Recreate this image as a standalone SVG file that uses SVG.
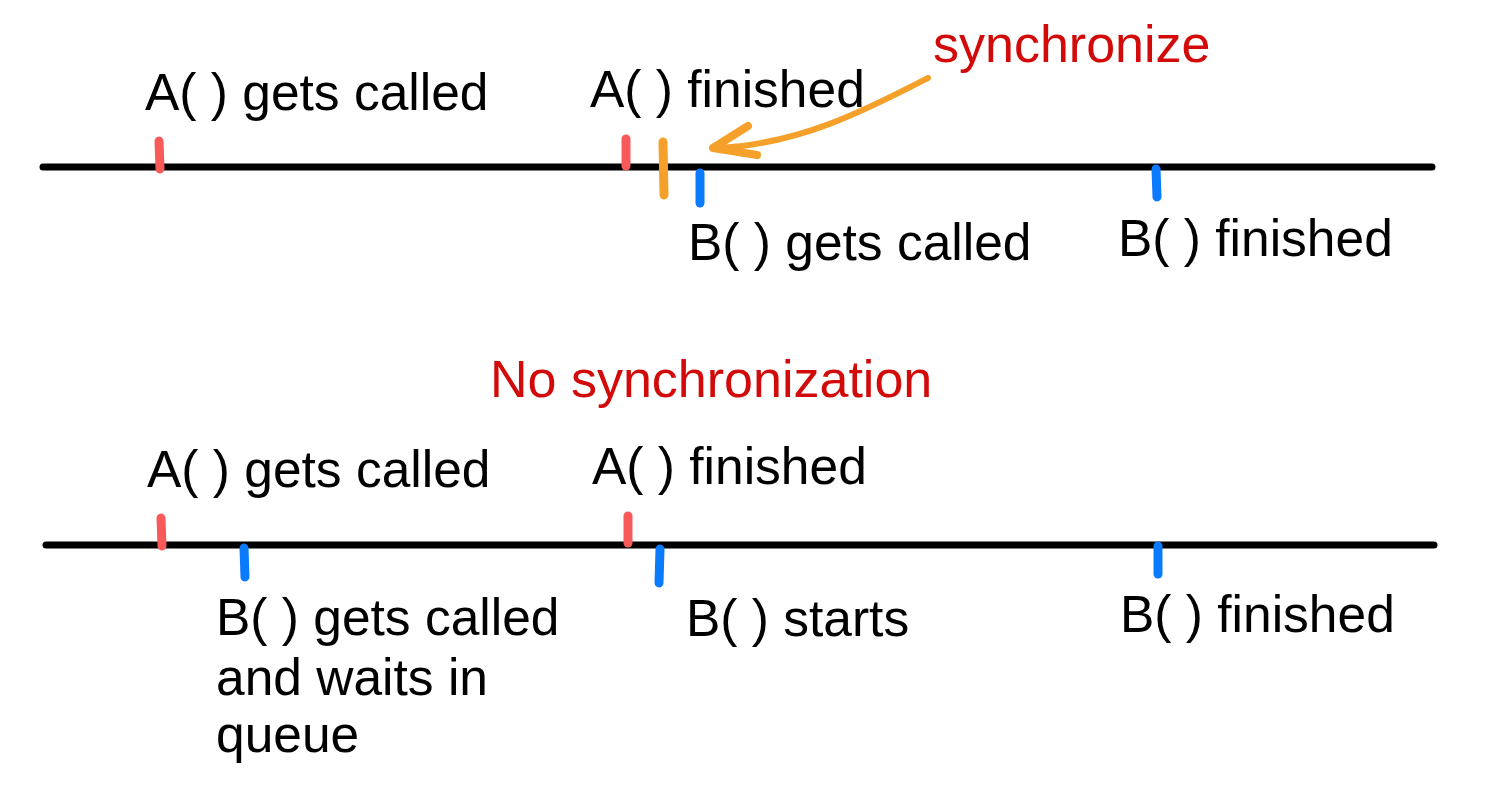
<svg xmlns="http://www.w3.org/2000/svg" width="1501" height="795" viewBox="0 0 1501 795">
<style>
.t{font-family:"Liberation Sans",Arial,sans-serif;font-size:51.5px;fill:#000}
.r{fill:#d20a0a;font-size:52px}
.axis{stroke:#000;stroke-width:7;stroke-linecap:round;fill:none}
.tick{stroke-width:9;stroke-linecap:round;fill:none}
.red{stroke:#f85a5a}
.blue{stroke:#0a7aff}
.orange{stroke:#f5a02a}
</style>
<rect width="1501" height="795" fill="#fff"/>
<g id="connectors">
<line class="axis" x1="43" y1="167" x2="1432" y2="167"/>
<line class="axis" x1="46" y1="545" x2="1434" y2="545"/>
<path class="orange" d="M928,78 C870,108 800,145 716,148" fill="none" stroke-width="6" stroke-linecap="round"/>
<path class="orange" d="M748,126 L713,148 L757,155" fill="none" stroke-width="8" stroke-linecap="round" stroke-linejoin="round"/>
</g>
<g id="top-timeline">
<g id="t-a-called"><line class="tick red" x1="159" y1="141" x2="160" y2="169"/><text class="t" x="145" y="110">A( ) gets called</text></g>
<g id="t-a-finished"><line class="tick red" x1="626" y1="139" x2="626" y2="166"/><text class="t" x="590" y="107">A( ) finished</text></g>
<g id="t-sync"><line class="tick orange" x1="663" y1="142" x2="664" y2="195" stroke-width="10"/><text class="t r" x="933" y="62">synchronize</text></g>
<g id="t-b-called"><line class="tick blue" x1="700" y1="173" x2="700" y2="203"/><text class="t" x="688" y="260">B( ) gets called</text></g>
<g id="t-b-finished"><line class="tick blue" x1="1156" y1="169" x2="1157" y2="197"/><text class="t" x="1118" y="256">B( ) finished</text></g>
</g>
<g id="title-no-sync"><text class="t r" x="490" y="397">No synchronization</text></g>
<g id="bottom-timeline">
<g id="b-a-called"><line class="tick red" x1="161" y1="518" x2="162" y2="546"/><text class="t" x="147" y="487">A( ) gets called</text></g>
<g id="b-b-called"><line class="tick blue" x1="244" y1="548" x2="245" y2="577"/><text class="t" x="216" y="635">B( ) gets called</text><text class="t" x="216" y="695">and waits in</text><text class="t" x="216" y="752">queue</text></g>
<g id="b-a-finished"><line class="tick red" x1="628" y1="516" x2="628" y2="543"/><text class="t" x="592" y="484">A( ) finished</text></g>
<g id="b-b-starts"><line class="tick blue" x1="660" y1="549" x2="659" y2="583"/><text class="t" x="686" y="636">B( ) starts</text></g>
<g id="b-b-finished"><line class="tick blue" x1="1158" y1="546" x2="1158" y2="574"/><text class="t" x="1120" y="632">B( ) finished</text></g>
</g>
</svg>
